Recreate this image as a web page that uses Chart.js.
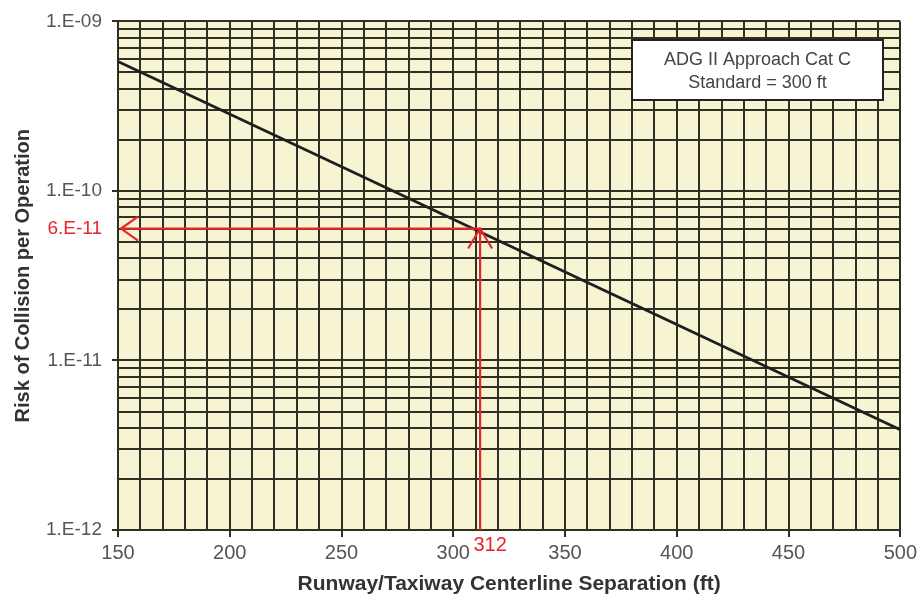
<!DOCTYPE html>
<html>
<head>
<meta charset="utf-8">
<script src="https://cdn.jsdelivr.net/npm/chart.js@4"></script>
<style>
  html, body { margin: 0; padding: 0; background: #fff; }
  #wrap { width: 921px; height: 597px; }
</style>
</head>
<body>
<div id="wrap"><canvas id="riskChart" width="921" height="597"></canvas></div>
<script>
// values
const separation = [150, 500];
const risk = [5.8e-10, 3.9e-12];
const decades = [-12, -11, -10, -9];
const mantissas = [1, 2, 3, 4, 5, 6, 7, 8, 9];
const boxLines = ["ADG II Approach Cat C", "Standard = 300 ft"];
const markX = 312;
const markY = 6e-11;
const markYLabel = "6.E-11";
const markXLabel = "312";

const gridColor = "#2f2f24";
const red = "#e8262a";

let yTicks = [];
decades.forEach(d => {
    mantissas.forEach(m => {
        if (d < -9 || m === 1) yTicks.push(m * Math.pow(10, d));
    });
});

function isDecade(v) {
    const l = Math.log10(v);
    return Math.abs(l - Math.round(l)) < 1e-6;
}
function decadeLabel(v) {
    const e = Math.round(Math.log10(v));
    return "1.E-" + String(Math.abs(e)).padStart(2, "0");
}

const plotBg = {
    id: "plotBg",
    beforeDraw(chart) {
        const a = chart.chartArea, ctx = chart.ctx;
        ctx.save();
        ctx.fillStyle = "#f6f4d2";
        ctx.fillRect(a.left, a.top, a.right - a.left, a.bottom - a.top);
        ctx.restore();
    }
};

const marks = {
    id: "marks",
    afterDraw(chart) {
        const ctx = chart.ctx;
        const xs = chart.scales.x, ys = chart.scales.y;
        const px = xs.getPixelForValue(markX);
        const py = ys.getPixelForValue(markY);
        const left = xs.getPixelForValue(separation[0]) + 3;
        const bottom = ys.getPixelForValue(1e-12);

        ctx.save();
        ctx.strokeStyle = red;
        ctx.lineWidth = 2.2;
        ctx.beginPath();
        ctx.moveTo(px, bottom);
        ctx.lineTo(px, py);
        ctx.moveTo(px, py);
        ctx.lineTo(left, py);
        // left arrowhead
        ctx.moveTo(left + 17, py - 12);
        ctx.lineTo(left, py);
        ctx.lineTo(left + 17, py + 12);
        // up arrowhead
        ctx.moveTo(px - 12, py + 20);
        ctx.lineTo(px, py);
        ctx.lineTo(px + 12, py + 20);
        ctx.stroke();

        ctx.fillStyle = red;
        ctx.font = "19px 'Liberation Sans', Arial, sans-serif";
        ctx.textAlign = "right";
        ctx.textBaseline = "middle";
        ctx.fillText(markYLabel, 102, py);
        ctx.font = "20px 'Liberation Sans', Arial, sans-serif";
        ctx.textAlign = "center";
        ctx.fillText(markXLabel, px + 10, bottom + 15);

        // legend box
        const bx = 632, by = 40, bw = 251, bh = 60;
        ctx.fillStyle = "#ffffff";
        ctx.fillRect(bx, by, bw, bh);
        ctx.strokeStyle = "#222";
        ctx.lineWidth = 2;
        ctx.strokeRect(bx, by, bw, bh);
        ctx.fillStyle = "#444";
        ctx.font = "18px 'Liberation Sans', Arial, sans-serif";
        ctx.textAlign = "center";
        ctx.fillText(boxLines[0], bx + bw / 2, by + 20);
        ctx.fillText(boxLines[1], bx + bw / 2, by + 43);
        ctx.restore();
    }
};

new Chart(document.getElementById("riskChart"), {
    type: "line",
    data: {
        labels: separation,
        datasets: [{
            data: separation.map((x, i) => ({ x: x, y: risk[i] })),
            borderColor: "#1e1e1e",
            borderWidth: 2.8,
            pointRadius: 0,
            tension: 0,
            fill: false
        }]
    },
    options: {
        responsive: false,
        devicePixelRatio: 1,
        animation: false,
        layout: { padding: { top: 21, right: 19, left: 0, bottom: 0 } },
        plugins: { legend: { display: false }, tooltip: { enabled: false } },
        scales: {
            x: {
                type: "linear",
                min: 150,
                max: 500,
                afterFit: s => { s.height = 67; },
                ticks: {
                    stepSize: 10,
                    autoSkip: false,
                    maxRotation: 0,
                    padding: 4,
                    color: "#555",
                    font: { family: "'Liberation Sans', Arial, sans-serif", size: 20 },
                    callback: v => (v % 50 === 0 ? String(v) : "")
                },
                grid: {
                    color: gridColor,
                    lineWidth: 2,
                    tickLength: 7,
                    tickColor: c => (c.tick && c.tick.value % 50 === 0 ? gridColor : "rgba(0,0,0,0)")
                },
                border: { display: true, color: gridColor, width: 2 },
                title: {
                    display: true,
                    text: "Runway/Taxiway Centerline Separation (ft)",
                    color: "#333",
                    font: { family: "'Liberation Sans', Arial, sans-serif", size: 21, weight: "bold" },
                    padding: { top: 0, bottom: 0 }
                }
            },
            y: {
                type: "logarithmic",
                min: 1e-12,
                max: 1e-9,
                afterFit: s => { s.width = 118; },
                afterBuildTicks: s => { s.ticks = yTicks.map(v => ({ value: v })); },
                ticks: {
                    autoSkip: false,
                    padding: 10,
                    color: "#555",
                    font: { family: "'Liberation Sans', Arial, sans-serif", size: 19 },
                    callback: v => (isDecade(v) ? decadeLabel(v) : "")
                },
                grid: {
                    color: gridColor,
                    lineWidth: 2,
                    tickLength: 6,
                    tickColor: c => (c.tick && isDecade(c.tick.value) ? gridColor : "rgba(0,0,0,0)")
                },
                border: { display: true, color: gridColor, width: 2 },
                title: {
                    display: true,
                    text: "Risk of Collision per Operation",
                    color: "#333",
                    font: { family: "'Liberation Sans', Arial, sans-serif", size: 20, weight: "bold" },
                    padding: { top: 11, bottom: 0 }
                }
            }
        }
    },
    plugins: [plotBg, marks]
});
</script>
</body>
</html>
